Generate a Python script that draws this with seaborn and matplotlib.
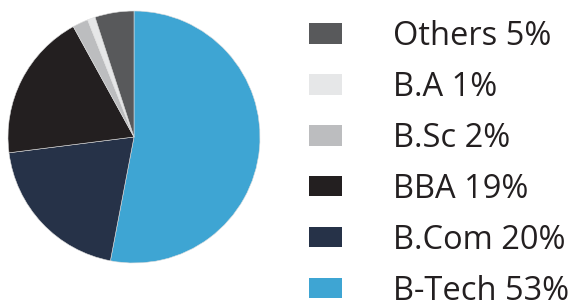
import matplotlib
matplotlib.use("Agg")
import matplotlib.pyplot as plt
import seaborn as sns

# Data, clockwise from 12 o'clock
courses = ["B-Tech", "B.Com", "BBA", "B.Sc", "B.A", "Others"]
shares = [53, 20, 19, 2, 1, 5]
colors = ["#3ea5d3", "#263248", "#231f20", "#bcbdbf", "#e6e7e8", "#58595b"]

sns.set_theme(style="white")
plt.rcParams['font.family'] = ['Open Sans', 'DejaVu Sans']

W, H = 580, 301
fig = plt.figure(figsize=(W / 100, H / 100), dpi=100)
fig.patch.set_facecolor("white")

# pie axes: center (134,137) radius 126 px
ax = fig.add_axes([8 / W, (H - 263) / H, 252 / W, 252 / H])
wedges, _ = ax.pie(shares, colors=colors, startangle=90, counterclock=False,
                   wedgeprops=dict(edgecolor="#dddddd", linewidth=0.4))
ax.set_xlim(-1, 1)
ax.set_ylim(-1, 1)
ax.set_aspect("equal")
ax.axis("off")

labels = [f"{c} {s}%" for c, s in zip(courses, shares)]
fs = 23.5
leg = fig.legend(wedges[::-1], labels[::-1], loc="upper left",
                 bbox_to_anchor=(309 / W, 1 - 20 / H), frameon=False,
                 fontsize=fs, handlelength=1.02, handleheight=0.58,
                 handletextpad=1.55, labelspacing=0.55, borderpad=0,
                 borderaxespad=0)
for h in leg.legend_handles:
    h.set_edgecolor("none")
for t in leg.get_texts():
    t.set_color("#231f20")

fig.savefig("out.png", dpi=100, facecolor="white")
